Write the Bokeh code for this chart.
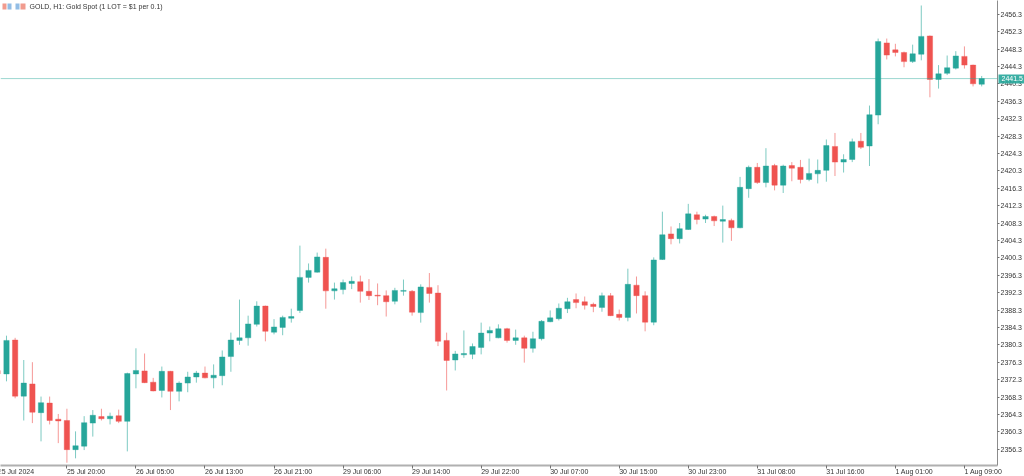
from bokeh.plotting import figure
from bokeh.layouts import column
from bokeh.models import ColumnDataSource, FixedTicker, Span, Label, BoxAnnotation, Range1d, LinearAxis
from bokeh.embed import file_html
from bokeh.resources import INLINE

open_ = [2374.4,2373.6,2381.4,2368.5,2371.3,2364.7,2366.9,2363.2,2362.9,2356.2,2357.0,2362.3,2363.8,2363.3,2364.0,2362.7,2373.6,2374.3,2371.7,2369.8,
 2374.2,2369.6,2371.5,2372.9,2373.8,2372.7,2373.2,2377.6,2381.3,2381.9,2385.0,2389.2,2383.2,2384.3,2386.4,2388.2,2395.8,2397.0,2400.4,2392.7,
 2393.0,2394.4,2394.8,2392.6,2391.7,2391.6,2390.3,2392.6,2392.6,2387.7,2393.5,2392.2,2381.3,2376.8,2378.0,2378.1,2379.7,2383.0,2381.9,2384.0,
 2381.3,2381.9,2379.5,2381.7,2385.6,2386.3,2388.6,2390.7,2390.2,2389.6,2388.9,2391.6,2387.3,2386.6,2394.0,2391.6,2385.5,2399.9,2405.8,2404.7,
 2406.8,2410.2,2409.2,2409.8,2408.7,2408.9,2407.2,2416.2,2421.1,2417.6,2421.5,2417.0,2421.5,2421.1,2418.3,2419.6,2420.4,2425.9,2422.3,2422.9,
 2427.1,2426.0,2433.1,2449.7,2448.1,2447.5,2445.4,2447.1,2451.3,2441.3,2442.7,2443.9,2446.6,2444.6,2440.2]
close = [2373.6,2381.3,2368.5,2371.5,2364.8,2367.0,2362.9,2362.8,2356.2,2357.1,2362.4,2364.1,2363.3,2363.9,2362.7,2373.7,2374.4,2371.6,2369.7,2374.2,
 2369.6,2371.5,2372.9,2373.8,2372.7,2373.3,2377.5,2381.4,2381.9,2385.1,2389.2,2383.4,2384.4,2386.6,2386.8,2395.8,2397.4,2400.5,2392.7,2393.2,
 2394.6,2394.9,2392.6,2391.6,2391.5,2390.2,2392.8,2392.8,2387.8,2393.6,2392.1,2381.1,2376.7,2378.2,2378.3,2379.9,2383.0,2383.6,2384.0,2381.3,
 2381.9,2379.5,2381.7,2385.7,2386.5,2388.7,2390.2,2390.0,2389.4,2389.1,2391.6,2387.0,2386.6,2394.2,2391.6,2385.5,2399.8,2405.6,2404.7,2407.0,
 2410.4,2409.1,2409.8,2408.8,2409.1,2407.2,2416.5,2421.1,2417.6,2421.4,2417.0,2421.4,2420.9,2418.3,2419.7,2420.4,2426.1,2422.3,2422.9,2427.0,
 2425.7,2433.2,2450.0,2446.9,2447.5,2445.4,2447.2,2451.2,2441.3,2442.6,2444.0,2446.7,2444.6,2440.3,2441.5]
high = [2374.9,2382.4,2381.9,2376.8,2376.3,2368.4,2368.4,2364.4,2365.6,2360.4,2363.9,2365.3,2365.6,2364.7,2365.4,2373.9,2379.5,2378.3,2372.7,2375.3,
 2374.3,2371.9,2374.1,2374.3,2375.3,2375.8,2379.0,2383.1,2390.7,2387.0,2390.3,2389.3,2386.2,2387.0,2388.6,2403.1,2399.0,2401.5,2402.4,2394.6,
 2395.3,2396.0,2396.2,2395.4,2394.4,2392.8,2393.4,2395.3,2392.9,2394.2,2396.8,2394.0,2383.1,2378.9,2383.6,2380.6,2385.4,2384.5,2385.0,2384.2,
 2383.8,2382.4,2383.3,2386.0,2388.2,2389.8,2391.1,2392.1,2391.4,2390.0,2392.3,2392.2,2388.4,2397.8,2396.0,2392.6,2400.4,2410.9,2407.5,2408.3,
 2412.7,2410.9,2410.2,2410.0,2412.3,2409.3,2418.9,2421.5,2422.1,2425.5,2421.9,2421.7,2422.3,2422.8,2423.1,2422.9,2427.5,2429.0,2424.1,2427.7,
 2429.0,2435.3,2450.7,2450.7,2449.5,2447.7,2449.3,2458.3,2451.4,2444.6,2446.8,2447.8,2448.9,2444.7,2442.1]
low = [2373.2,2371.9,2368.0,2362.9,2362.3,2358.1,2362.0,2357.7,2353.2,2354.2,2356.1,2359.2,2362.9,2362.0,2362.3,2355.8,2370.3,2371.5,2369.6,2368.2,
 2365.3,2367.3,2369.4,2371.6,2372.6,2370.3,2371.0,2374.1,2380.3,2380.1,2384.5,2381.1,2382.7,2382.5,2385.4,2387.6,2394.6,2396.9,2388.6,2390.7,
 2391.9,2393.1,2390.0,2390.6,2389.4,2386.8,2389.6,2391.6,2387.0,2385.4,2390.0,2380.0,2369.8,2374.4,2377.3,2377.0,2378.1,2381.1,2381.8,2380.8,
 2380.3,2376.2,2378.5,2381.3,2385.5,2385.9,2387.6,2388.7,2388.4,2387.8,2387.9,2386.9,2385.9,2385.7,2387.5,2383.4,2384.8,2399.8,2403.4,2403.6,
 2406.7,2408.0,2408.3,2407.6,2403.8,2404.2,2407.1,2414.1,2417.3,2416.5,2415.8,2415.2,2417.9,2417.4,2417.9,2417.4,2417.8,2419.1,2419.9,2422.3,
 2425.3,2421.4,2431.0,2445.9,2446.6,2444.1,2445.1,2445.7,2437.2,2439.2,2442.3,2443.6,2443.8,2439.7,2439.7]

x_tick_labels = ["25 Jul 2024","25 Jul 20:00","26 Jul 05:00","26 Jul 13:00","26 Jul 21:00","29 Jul 06:00","29 Jul 14:00","29 Jul 22:00",
                 "30 Jul 07:00","30 Jul 15:00","30 Jul 23:00","31 Jul 08:00","31 Jul 16:00","1 Aug 01:00","1 Aug 09:00"]
y_ticks = [2356.3 + 4*k for k in range(26)]
current_price = 2441.5
title_text = "GOLD, H1:  Gold Spot (1 LOT = $1 per 0.1)"

GREEN, RED = "#26a69a", "#ef5350"
FONT = "Liberation Sans"
TXT = "#333333"
W, H, FRAME_W, FRAME_H = 1024, 476, 997, 465
X0, PX_PER_BAR = -0.695, 8.63
Y_TOP, PX_PER_USD = 2459.45, 4.35
FIXED = {"position": "fixed", "left": "0px", "top": "0px"}

idx = list(range(-1, len(open_) - 1))
colors = [GREEN if c >= o else RED for o, c in zip(open_, close)]
src = ColumnDataSource(dict(x=idx, o=open_, c=close, h=high, l=low, col=colors))

p = figure(width=W, height=H, frame_width=FRAME_W, frame_height=FRAME_H,
           output_backend="svg", toolbar_location=None,
           x_range=Range1d(X0, X0 + FRAME_W / PX_PER_BAR),
           y_range=Range1d(Y_TOP - FRAME_H / PX_PER_USD, Y_TOP),
           min_border_left=0, min_border_right=W - FRAME_W, min_border_top=0, min_border_bottom=H - FRAME_H,
           styles=FIXED)
p.grid.visible = False
p.outline_line_color = None
p.background_fill_color = "white"

p.segment("x", "l", "x", "h", source=src, color="col", line_width=1, line_alpha=0.6)
p.vbar("x", 0.62, "o", "c", source=src, fill_color="col", line_color="col", line_alpha=0.4, line_width=1)
p.add_layout(Span(location=current_price, dimension="width", line_color=GREEN, line_alpha=0.45, line_width=1))

xa = p.xaxis[0]
ticks = [-1 + 8*k for k in range(len(x_tick_labels))]
xa.ticker = FixedTicker(ticks=ticks)
xa.major_label_overrides = {t: "" for t in ticks}
xa.major_label_text_font_size = "1px"
xa.major_label_standoff = 0
xa.major_tick_in = 0
xa.major_tick_out = 3
xa.minor_tick_line_color = None
xa.axis_line_color = "#b0b0b0"
xa.axis_line_width = 2
xa.major_tick_line_color = "#707070"

p.yaxis.visible = False
ya = LinearAxis(ticker=FixedTicker(ticks=y_ticks))
ya.major_label_overrides = {t: f"{t:.1f}" for t in y_ticks}
ya.major_label_text_font = FONT
ya.major_label_text_font_size = "7px"
ya.major_label_text_color = TXT
ya.major_label_standoff = 1
ya.major_tick_in = 0
ya.major_tick_out = 2
ya.minor_tick_line_color = None
ya.axis_line_color = "#8c8c8c"
ya.axis_line_width = 1
ya.major_tick_line_color = "#707070"
p.add_layout(ya, "right")

# transparent page-sized overlay sharing the same scales: texts outside the main frame
ov = figure(width=W, height=H, frame_width=W, frame_height=H, output_backend="svg", toolbar_location=None,
            x_range=Range1d(X0, X0 + W / PX_PER_BAR), y_range=Range1d(Y_TOP - H / PX_PER_USD, Y_TOP),
            x_axis_location=None, y_axis_location=None,
            min_border=0, min_border_left=0, min_border_right=0, min_border_top=0, min_border_bottom=0, styles=FIXED)
ov.grid.visible = False
ov.outline_line_color = None
ov.background_fill_alpha = 0
ov.border_fill_alpha = 0

for t, s in zip(ticks, x_tick_labels):
    ov.add_layout(Label(x=t, y=H - 471, x_units="data", y_units="screen", text=s, text_font=FONT,
                        text_font_size="7px", text_color=TXT, text_baseline="middle"))

ov.add_layout(BoxAnnotation(left=998, right=1024, top=H - 74, bottom=H - 83,
                            left_units="screen", right_units="screen", top_units="screen", bottom_units="screen",
                            fill_color=GREEN, fill_alpha=0.9, line_color=None))
ov.add_layout(Label(x=1001, y=current_price, x_units="screen", y_units="data", text=f"{current_price:.1f}", text_font=FONT,
                    text_font_size="7px", text_color="white", text_baseline="middle", level="overlay"))
ov.add_layout(Label(x=29, y=H - 6, x_units="screen", y_units="screen", text=title_text, text_font=FONT,
                    text_font_size="7px", text_color=TXT, text_baseline="middle"))

for l, r, c in [(2, 6, "#ee8a7a"), (7, 11, "#7fb2e0"), (15, 19, "#7fb2e0"), (20, 25, "#ee8a7a")]:
    ov.add_layout(BoxAnnotation(left=l, right=r, top=H - 3, bottom=H - 9,
                                left_units="screen", right_units="screen", top_units="screen", bottom_units="screen",
                                fill_color=c, fill_alpha=0.85, line_color=None))

open("out.html", "w").write(file_html(column(p, ov), INLINE))
